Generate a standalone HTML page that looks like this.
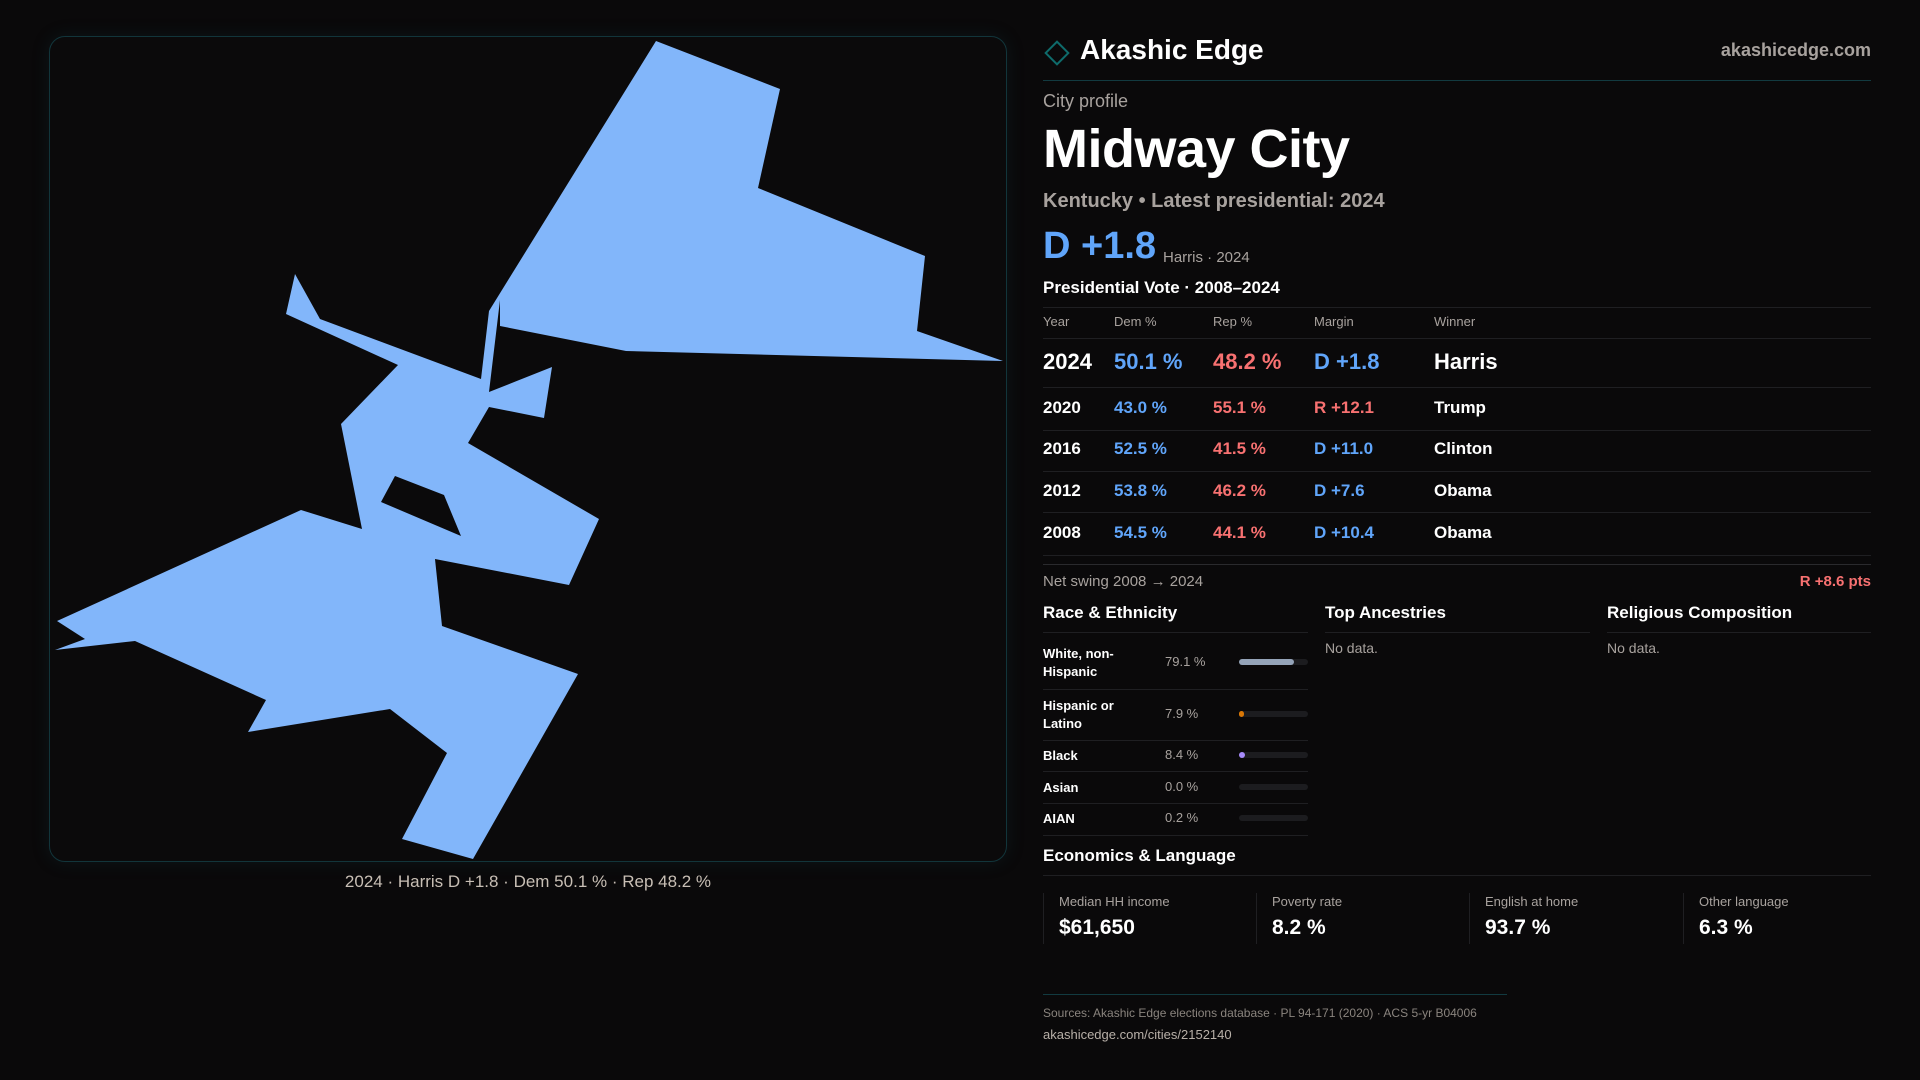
<!DOCTYPE html>
<html><head><meta charset="utf-8">
<style>
*{margin:0;padding:0;box-sizing:border-box}
body{width:1920px;height:1080px;background:#0a090a;font-family:"Liberation Sans",sans-serif;color:#fff;position:relative;overflow:hidden}
.a{position:absolute;white-space:nowrap}
.g{color:#a8a29e}
.blue{color:#60a5fa}.red{color:#f87171}
.hl{position:absolute;height:1px;background:#1f1f22}
</style></head><body>
<div class="a" style="left:49px;top:36px;width:958px;height:826px;border:1px solid #12353b;border-radius:16px;background:#0b0a0b;box-shadow:0 0 18px rgba(20,80,90,0.18)"></div>
<svg class="a" style="left:0;top:0" width="1020" height="1000">
<path fill="#82b6fa" fill-rule="evenodd" d="M656,41 L780,89 L758,188 L925,256 L917,331 L1003,361 L626,351 L500,326 L500,300 L489,392 L552,367 L544,418 L489,407 L468,443 L599,519 L569,585 L435,559 L442,626 L578,674 L473,859 L402,839 L447,753 L390,709 L248,732 L266,700 L135,641 L55,650 L85,639 L57,621 L301,510 L362,529 L341,424 L398,365 L286,314 L295,274 L320,319 L481,379 L489,311 Z M395,476 L444,495 L461,536 L381,502 Z"/>
</svg>
<div class="a" style="left:49px;width:958px;text-align:center;top:872px;font-size:17px;color:#c8bfb5">2024 · Harris D +1.8 · Dem 50.1 % · Rep 48.2 %</div>

<div class="a" style="left:1048px;top:44px;width:18px;height:18px;border:2px solid #0e6b6b;transform:rotate(45deg)"></div>
<div class="a" style="left:1080px;top:34px;font-size:28px;font-weight:bold">Akashic Edge</div>
<div class="a g" style="right:49px;top:40px;font-size:18px;font-weight:bold">akashicedge.com</div>
<div class="hl" style="left:1043px;width:828px;top:80px;background:#123a40"></div>
<div class="a g" style="left:1043px;top:91px;font-size:18px">City profile</div>
<div class="a" style="left:1043px;top:118px;font-size:54px;font-weight:bold;letter-spacing:-0.5px">Midway City</div>
<div class="a g" style="left:1043px;top:190px;font-size:20px;font-weight:bold">Kentucky • Latest presidential: 2024</div>
<div class="a blue" style="left:1043px;top:225px;font-size:38px;font-weight:bold">D +1.8</div>
<div class="a g" style="left:1163px;top:249px;font-size:15px">Harris · 2024</div>
<div class="a" style="left:1043px;top:278px;font-size:17px;font-weight:bold">Presidential Vote · 2008–2024</div>

<div class="hl" style="left:1043px;width:828px;top:564px;background:#2a2a2d"></div>
<div class="a g" style="left:1043px;top:573px;font-size:15px">Net swing 2008 → 2024</div>
<div class="a red" style="right:49px;top:573px;font-size:15px;font-weight:bold">R +8.6 pts</div>

<div class="a" style="left:1043px;top:603px;font-size:17px;font-weight:bold">Race &amp; Ethnicity</div>
<div class="a" style="left:1325px;top:603px;font-size:17px;font-weight:bold">Top Ancestries</div>
<div class="a" style="left:1607px;top:603px;font-size:17px;font-weight:bold">Religious Composition</div>
<div class="hl" style="left:1043px;width:265px;top:632px"></div>
<div class="hl" style="left:1325px;width:265px;top:632px"></div>
<div class="hl" style="left:1607px;width:264px;top:632px"></div>
<div class="a g" style="left:1325px;top:640px;font-size:14px">No data.</div>
<div class="a g" style="left:1607px;top:640px;font-size:14px">No data.</div>

<div class="a" style="left:1043px;top:846px;font-size:17px;font-weight:bold">Economics &amp; Language</div>
<div class="hl" style="left:1043px;width:828px;top:875px"></div>

<div class="hl" style="left:1043px;width:464px;top:994px;background:#123a40"></div>
<div class="a g" style="left:1043px;top:1006px;font-size:12px;color:#8a847e">Sources: Akashic Edge elections database · PL 94-171 (2020) · ACS 5-yr B04006</div>
<div class="a" style="left:1043px;top:1027px;font-size:13px;color:#b8b0a8">akashicedge.com/cities/2152140</div>

<script>
const years=[2024,2020,2016,2012,2008];
const demPct=[50.1,43.0,52.5,53.8,54.5];
const repPct=[48.2,55.1,41.5,46.2,44.1];
const margins=["D +1.8","R +12.1","D +11.0","D +7.6","D +10.4"];
const winners=["Harris","Trump","Clinton","Obama","Obama"];
const raceLabels=["White, non-<br>Hispanic","Hispanic or<br>Latino","Black","Asian","AIAN"];
const racePct=[79.1,7.9,8.4,0.0,0.2];
const raceColors=["#94a3b8","#d97706","#a78bfa","#64748b","#64748b"];
const econLabels=["Median HH income","Poverty rate","English at home","Other language"];
const econValues=["$61,650","8.2 %","93.7 %","6.3 %"];

function mk(html,style){const d=document.createElement('div');d.className='a';d.innerHTML=html;d.style.cssText=style;document.body.appendChild(d);return d;}
const cols=[1043,1114,1213,1314,1434];
const hdr=["Year","Dem %","Rep %","Margin","Winner"];
let e;
e=document.createElement('div');e.className='hl';e.style.cssText='left:1043px;width:828px;top:307px';document.body.appendChild(e);


hdr.forEach((h,i)=>{
 e=mk(h,`left:${cols[i]}px;top:314px;font-size:13px;color:#a8a29e`);
 
 
});
const rowY=[349,398,439,481,523];
const lineY=[338,387,430,471,512,555];
lineY.forEach(y=>{
 e=document.createElement('div');e.className='hl';e.style.cssText=`left:1043px;width:828px;top:${y}px`;document.body.appendChild(e);
 
 
});
years.forEach((yr,i)=>{
 const fs=i===0?22:17;
 const isD=margins[i].startsWith('D');
 const vals=[yr,demPct[i].toFixed(1)+" %",repPct[i].toFixed(1)+" %",margins[i],winners[i]];
 const colr=["#fff","#60a5fa","#f87171",isD?"#60a5fa":"#f87171","#fff"];
 vals.forEach((v,j)=>{
  e=mk(v,`left:${cols[j]}px;top:${rowY[i]}px;font-size:${fs}px;font-weight:bold;color:${colr[j]}`);
  
  
 });
});
const rY=[662,714,755,787,818];
const rL=[689,740,771,803,835];
rL.forEach(y=>{
 e=document.createElement('div');e.className='hl';e.style.cssText=`left:1043px;width:265px;top:${y}px`;document.body.appendChild(e);
 
 
});
raceLabels.forEach((l,i)=>{
 const two=l.includes('<br>');
 e=mk(l,`left:1043px;top:${rY[i]-(two?17:8)}px;font-size:13px;font-weight:bold;line-height:18px`);
 
 
 e=mk(racePct[i].toFixed(1)+" %",`left:1165px;top:${rY[i]-8}px;font-size:13px;color:#a8a29e`);
 
 
 e=mk('',`left:1239px;top:${rY[i]-3}px;width:69px;height:6px;border-radius:3px;background:#1c1c1f`);
 
 
 if(racePct[i]>0.5){
  e=mk('',`left:1239px;top:${rY[i]-3}px;width:${Math.max(4,69*racePct[i]/100)}px;height:6px;border-radius:3px;background:${raceColors[i]}`);
  
  
 }
});
const cx=[1043,1256,1469,1683];
econLabels.forEach((l,i)=>{
 e=mk('',`left:${cx[i]}px;top:893px;width:1px;height:51px;background:#1f1f22`);
 
 
 e=mk(l,`left:${cx[i]+16}px;top:894px;font-size:13px;color:#a8a29e`);
 
 
 e=mk(econValues[i],`left:${cx[i]+16}px;top:916px;font-size:21px;font-weight:bold`);
 
 
});
</script>
</body></html>
